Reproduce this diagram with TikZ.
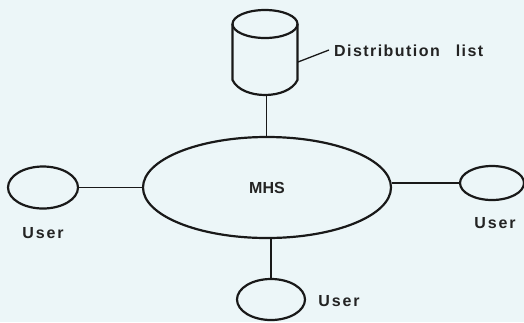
\documentclass[tikz,border=0pt]{standalone}
\usepackage{fontspec}
\setmainfont{Liberation Sans}
\newfontfamily\userfont{Liberation Sans}[LetterSpace=12]
\newfontfamily\listfont{Liberation Sans}[LetterSpace=9]
\usetikzlibrary{shapes.geometric}
\definecolor{paper}{RGB}{236,246,248}
\definecolor{ink}{RGB}{25,25,25}
\definecolor{lettering}{RGB}{35,35,35}
\tikzset{
  outline/.style={draw=ink, line width=2.2pt},
  station/.style={ellipse, outline, inner sep=0pt},
  link/.style={draw=ink, line width=1.3pt},
  caption/.style={text=lettering, inner sep=0pt,
    font=\fontsize{16}{18}\selectfont\bfseries}
}
\begin{document}
\begin{tikzpicture}[x=1pt, y=-1pt]
  \fill[paper] (0,0) rectangle (524,322);
  \useasboundingbox (0,0) rectangle (524,322);

  % message handling system and its users
  \node[station, minimum width=248pt, minimum height=101pt,
        font=\fontsize{16}{18}\selectfont\bfseries, text=lettering]
        (mhs) at (267,187.5) {MHS};
  \node[station, minimum width=70pt, minimum height=42pt] (userL) at (43,187.5) {};
  \node[station, minimum width=64pt, minimum height=34pt] (userR) at (492,183) {};
  \node[station, minimum width=68pt, minimum height=41pt] (userB) at (271,299.5) {};

  % distribution list store: body with curved base, then the top face
  \draw[outline, fill=paper, line join=round]
        (232.5,24) -- (232.5,80)
        .. controls (242,100) and (288,100) .. (297.5,80)
        -- (297.5,24);
  \draw[outline] (265,24) ellipse[x radius=32.5, y radius=14];
  \coordinate (dbbottom) at (266.5,95);
  \coordinate (dbside) at (298,62);
  \coordinate (tagend) at (329,50);

  % connections
  \draw[link] (dbbottom) -- (dbbottom |- mhs.north);
  \draw[link] (userL.east) -- (mhs.west);
  \draw[link] (userR.west) -- (mhs.east |- userR.west);
  \draw[link] (userB.north) -- (userB.north |- mhs.south);
  \draw[link] (dbside) -- (tagend);

  % captions
  \node[caption, anchor=west] (dlist) at (334,50.5)
        {\listfont\bfseries Distribution\hspace{16pt}list};
  \node[caption] (userLtext) at (43,233) {\userfont\bfseries User};
  \node[caption] (userRtext) at (495,223) {\userfont\bfseries User};
  \node[caption] (userBtext) at (339,301) {\userfont\bfseries User};
\end{tikzpicture}
\end{document}
